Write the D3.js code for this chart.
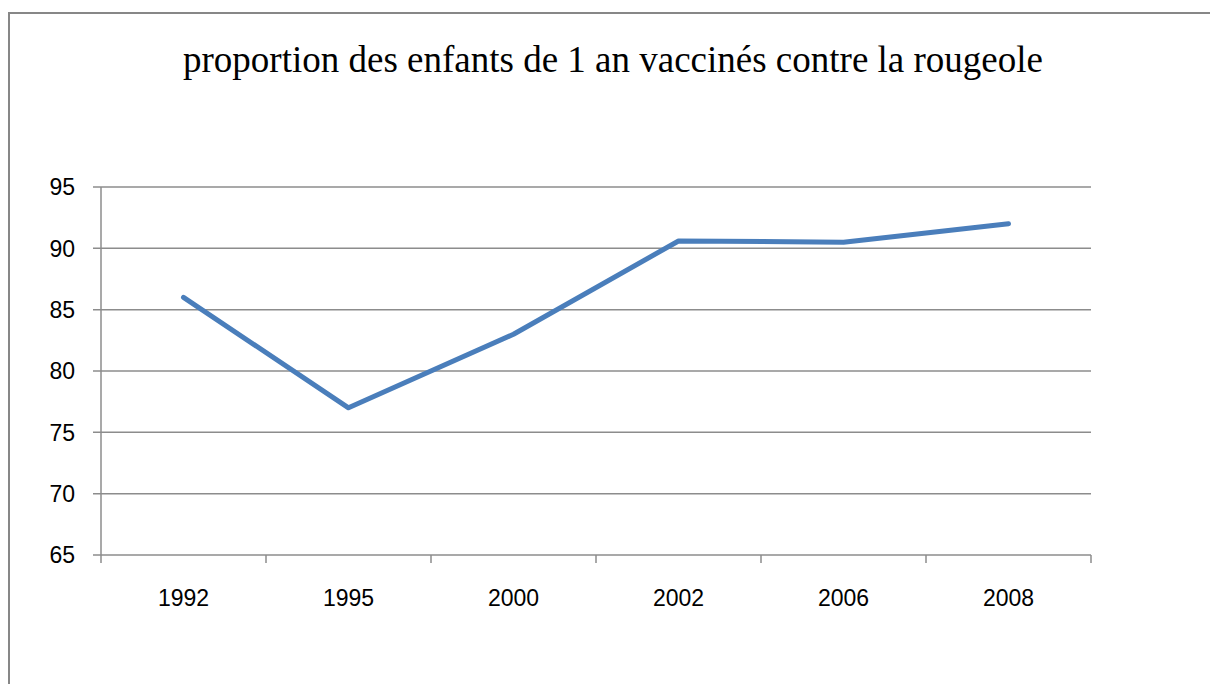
<!DOCTYPE html>
<html>
<head>
<meta charset="utf-8">
<script src="https://cdn.jsdelivr.net/npm/d3@7"></script>
<style>
  html, body { margin: 0; padding: 0; background: #fff; overflow: hidden; }
  svg { display: block; }
</style>
</head>
<body>
<svg id="chart"></svg>
<script>
// Chart size
const width = 1210;
const height = 684;

// Data
const years = ["1992", "1995", "2000", "2002", "2006", "2008"];
const values = [86, 77, 83, 90.6, 90.5, 92];
const yTicks = [65, 70, 75, 80, 85, 90, 95];
const title = "proportion des enfants de 1 an vaccinés contre la rougeole";

const margin = { left: 101, right: 1091, top: 187, bottom: 555 };

const svg = d3.select("#chart")
    .attr("width", width)
    .attr("height", height);

// Outer chart border (only left and top visible in the frame)
svg.append("rect")
    .attr("x", 9)
    .attr("y", 13)
    .attr("width", 1400)
    .attr("height", 900)
    .style("fill", "none")
    .style("stroke", "#878787")
    .style("stroke-width", 2);

// Title
svg.append("text")
    .attr("x", 613)
    .attr("y", 72)
    .attr("text-anchor", "middle")
    .style("font-family", "'Liberation Serif', 'Times New Roman', serif")
    .style("font-size", "37px")
    .style("fill", "#000")
    .text(title);

// Scales
const x = d3.scaleBand()
    .domain(years)
    .range([margin.left, margin.right]);

const y = d3.scaleLinear()
    .domain([65, 95])
    .range([margin.bottom, margin.top]);

// Horizontal gridlines with small ticks to the left
svg.append("g")
    .selectAll("line")
    .data(yTicks)
    .enter().append("line")
    .attr("x1", margin.left - 8)
    .attr("x2", margin.right)
    .attr("y1", d => y(d))
    .attr("y2", d => y(d))
    .style("stroke", "#8c8c8c")
    .style("stroke-width", 1.5);

// Y axis line
svg.append("line")
    .attr("x1", margin.left)
    .attr("x2", margin.left)
    .attr("y1", margin.top)
    .attr("y2", margin.bottom)
    .style("stroke", "#8c8c8c")
    .style("stroke-width", 1.5);

// Y tick labels
svg.append("g")
    .selectAll("text")
    .data(yTicks)
    .enter().append("text")
    .attr("x", 75)
    .attr("y", d => y(d))
    .attr("dy", "0.36em")
    .attr("text-anchor", "end")
    .style("font-family", "'Liberation Sans', Arial, sans-serif")
    .style("font-size", "23px")
    .style("fill", "#000")
    .text(d => d);

// X category ticks (at band boundaries)
const boundaries = years.map(d => x(d)).concat([x(years[years.length - 1]) + x.bandwidth()]);
svg.append("g")
    .selectAll("line")
    .data(boundaries)
    .enter().append("line")
    .attr("x1", d => d)
    .attr("x2", d => d)
    .attr("y1", margin.bottom)
    .attr("y2", margin.bottom + 8)
    .style("stroke", "#8c8c8c")
    .style("stroke-width", 1.5);

// X category labels
svg.append("g")
    .selectAll("text")
    .data(years)
    .enter().append("text")
    .attr("x", d => x(d) + x.bandwidth() / 2)
    .attr("y", 606)
    .attr("text-anchor", "middle")
    .style("font-family", "'Liberation Sans', Arial, sans-serif")
    .style("font-size", "23px")
    .style("fill", "#000")
    .text(d => d);

// The line itself
const line = d3.line()
    .x((d, i) => x(years[i]) + x.bandwidth() / 2)
    .y(d => y(d));

svg.append("path")
    .datum(values)
    .attr("d", line)
    .style("fill", "none")
    .style("stroke", "#4a7ebb")
    .style("stroke-width", 5)
    .style("stroke-linecap", "round")
    .style("stroke-linejoin", "round");
</script>
</body>
</html>
